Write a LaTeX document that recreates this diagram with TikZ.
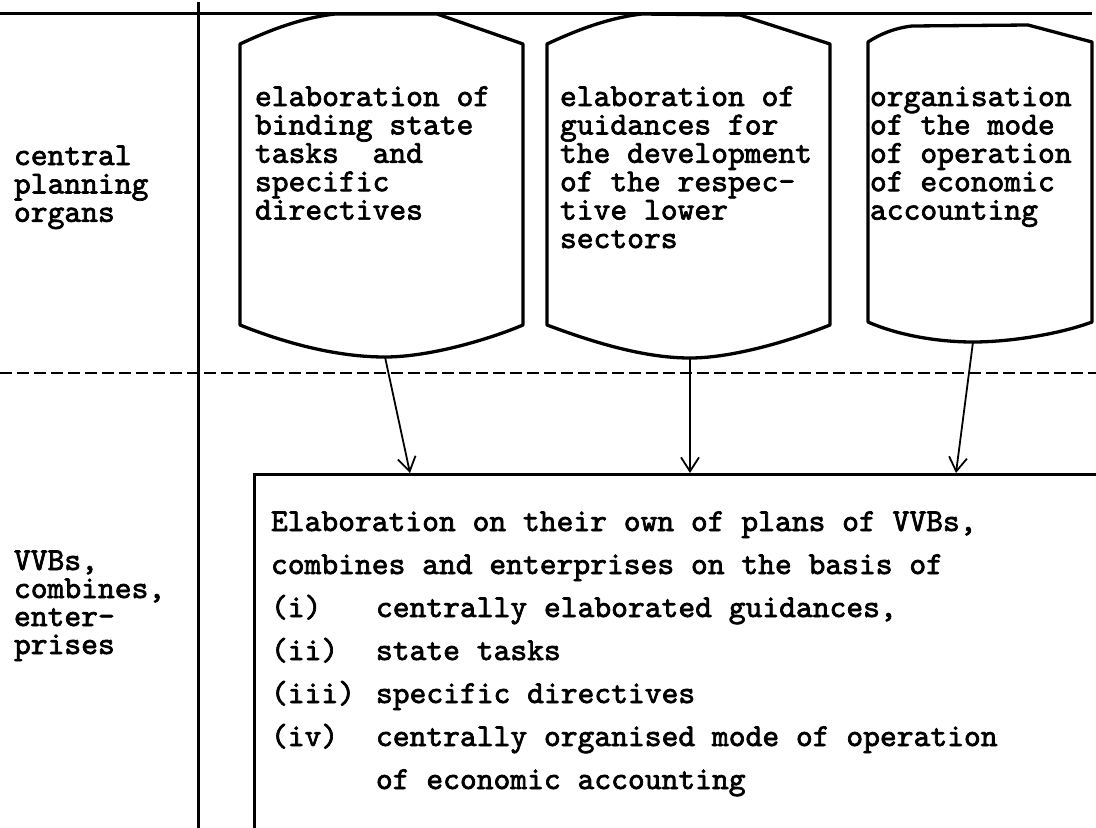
\documentclass[tikz,border=0pt]{standalone}
\usepackage{fontspec}
\usetikzlibrary{arrows.meta}
\newfontfamily\twfont{lmmono10-regular.otf}[FakeBold=2.2]
\newcommand{\boxfont}{\twfont\fontsize{32}{28.4}\selectfont}
\newcommand{\planfont}{\twfont\fontsize{32}{43}\selectfont}
\newcommand{\itm}[1]{\makebox[105pt][l]{#1}}
\tikzset{
  outline/.style={line width=3.3pt, line join=round, line cap=round},
  rule/.style={line width=3pt},
  dashrule/.style={line width=2.8pt, dash pattern=on 12pt off 5pt},
  arr/.style={line width=1.8pt, -{Straight Barb[length=14pt,width=18pt,line width=1.8pt]}},
  txt/.style={inner sep=0pt, outer sep=0pt, anchor=base west, font=\boxfont},
  plantxt/.style={inner sep=0pt, outer sep=0pt, anchor=base west, font=\planfont}
}
\begin{document}
\begin{tikzpicture}[x=1pt,y=-1pt]
\useasboundingbox (0,0) rectangle (1096,828);
% frame lines
\draw[rule] (0,13) -- (1092,13);
\draw[rule] (198,2) -- (198,828);
\draw[dashrule] (0,373) -- (1096,373);
% box 1
\draw[outline] (240,325) -- (240,44) .. controls (268,31) and (300,18) .. (335,14) -- (437,14) -- (523,44) -- (523,325)
  .. controls (490,339) and (430,357) .. (385,357) .. controls (340,357) and (290,345) .. cycle;
% box 2
\draw[outline] (547,325) -- (547,44) .. controls (575,31) and (607,18) .. (642,14) -- (740,15) -- (830,44) -- (830,325)
  .. controls (795,339) and (735,358) .. (690,358) .. controls (645,358) and (595,343) .. cycle;
% box 3
\draw[outline] (868,322) -- (868,42) .. controls (880,34) and (895,28) .. (912,26) -- (1028,25) -- (1092,42) -- (1092,322)
  .. controls (1060,334) and (1010,342) .. (973,342) .. controls (940,342) and (900,336) .. cycle;
% lower box (open)
\draw[rule] (254,828) -- (254,474) -- (1096,474);
% labels left
\node[txt] (lab1) at (14,165) {\begin{tabular}[t]{@{}l@{}}central\\planning\\organs\end{tabular}};
\node[txt, font=\twfont\fontsize{32}{28}\selectfont] (lab2) at (14,570) {\begin{tabular}[t]{@{}l@{}}VVBs,\\combines,\\enter-\\prises\end{tabular}};
% box texts
\node[txt] (t1) at (255,106) {\begin{tabular}[t]{@{}l@{}}elaboration of\\binding state\\tasks\ \ and\\specific\\directives\end{tabular}};
\node[txt] (t2) at (560,106) {\begin{tabular}[t]{@{}l@{}}elaboration of\\guidances for\\the development\\of the respec-\\tive lower\\sectors\end{tabular}};
\node[txt] (t3) at (870,106) {\begin{tabular}[t]{@{}l@{}}organisation\\of the mode\\of operation\\of economic\\accounting\end{tabular}};
% plan text
\node[plantxt] (plan) at (271,531) {\begin{tabular}[t]{@{}l@{}}Elaboration on their own of plans of VVBs,\\
combines and enterprises on the basis of\\
\itm{(i)}centrally elaborated guidances,\\
\itm{(ii)}state tasks\\
\itm{(iii)}specific directives\\
\itm{(iv)}centrally organised mode of operation\\
\itm{}of economic accounting\end{tabular}};
% arrow end points
\coordinate (s1) at (385,357);
\coordinate (s2) at (690,358);
\coordinate (s3) at (973,342);
\coordinate (e1) at (410,473);
\coordinate (e2) at (690,473);
\coordinate (e3) at (956,473);
\draw[arr] (s1) -- (e1);
\draw[arr] (s2) -- (e2);
\draw[arr] (s3) -- (e3);
\end{tikzpicture}
\end{document}
